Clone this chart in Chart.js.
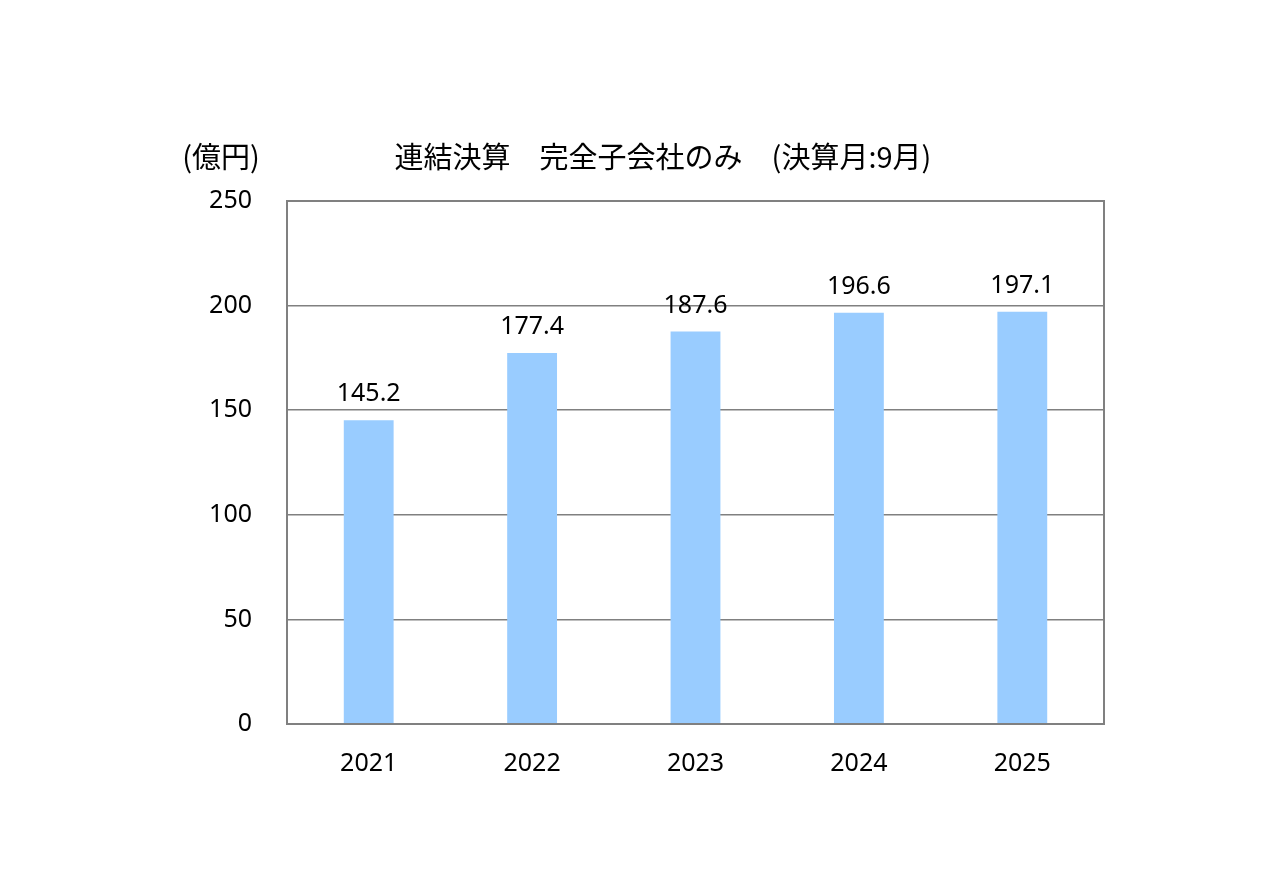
<!DOCTYPE html>
<html lang="ja"><head><meta charset="UTF-8">
<title>連結決算 完全子会社のみ</title>
<script src="https://cdn.jsdelivr.net/npm/chart.js@4/dist/chart.umd.min.js"></script>
<style>
*{margin:0;padding:0}
body{background:#fff;width:1263px;height:891px;overflow:hidden}
canvas{display:block}
</style></head><body>
<canvas id="c" width="1263" height="891"></canvas>
<script>
const years = ['2021', '2022', '2023', '2024', '2025'];
const sales = [145.2, 177.4, 187.6, 196.6, 197.1];
const yTicks = [0, 50, 100, 150, 200, 250];
const titleText = '連結決算\u3000完全子会社のみ\u3000(決算月:9月)';
const unitText = '(億円)';

const numFont = '"Noto Sans", "Open Sans", sans-serif';
const jpFont = '"Noto Sans CJK JP", sans-serif';

// 上部テキストと値ラベル
const labelsPlugin = {
  id: 'labels',
  afterDatasetsDraw(chart) {
    const ctx = chart.ctx;
    ctx.save();
    ctx.fillStyle = '#000';
    ctx.textBaseline = 'middle';
    ctx.font = '29px ' + jpFont;
    ctx.textAlign = 'center';
    ctx.fillText(unitText, 221, 157);
    ctx.fillText(titleText, 663, 157);
    ctx.font = '25px ' + numFont;
    const meta = chart.getDatasetMeta(0);
    meta.data.forEach((bar, i) => {
      ctx.fillText(sales[i].toFixed(1), bar.x, bar.y - 26);
    });
    ctx.restore();
  }
};

new Chart(document.getElementById('c'), {
  type: 'bar',
  data: {
    labels: years,
    datasets: [{
      data: sales,
      backgroundColor: '#99CCFF',
      barPercentage: 0.61,
      categoryPercentage: 0.5
    }]
  },
  options: {
    responsive: false,
    animation: false,
    layout: { padding: { top: 201, right: 159, left: 0, bottom: 0 } },
    plugins: { legend: { display: false }, tooltip: { enabled: false } },
    scales: {
      x: {
        grid: { display: false, drawTicks: false },
        border: { color: '#808080', width: 2 },
        ticks: { color: '#000', font: { size: 25, family: numFont }, padding: 25 },
        afterFit(s) { s.height = 167; }
      },
      y: {
        min: 0, max: 250,
        afterBuildTicks(s) { s.ticks = yTicks.map(v => ({ value: v })); },
        grid: { color: '#808080', lineWidth: 1.5, drawTicks: false },
        border: { color: '#808080', width: 2 },
        ticks: { color: '#000', font: { size: 25, family: numFont }, padding: 35 },
        afterFit(s) { s.width = 287; }
      }
    }
  },
  plugins: [labelsPlugin, {
    id: 'frame',
    afterDraw(chart) {
      const a = chart.chartArea, ctx = chart.ctx;
      ctx.save();
      ctx.strokeStyle = '#808080';
      ctx.lineWidth = 2;
      ctx.strokeRect(a.left, a.top, a.right - a.left, a.bottom - a.top);
      ctx.restore();
    }
  }]
});
</script>
</body></html>
